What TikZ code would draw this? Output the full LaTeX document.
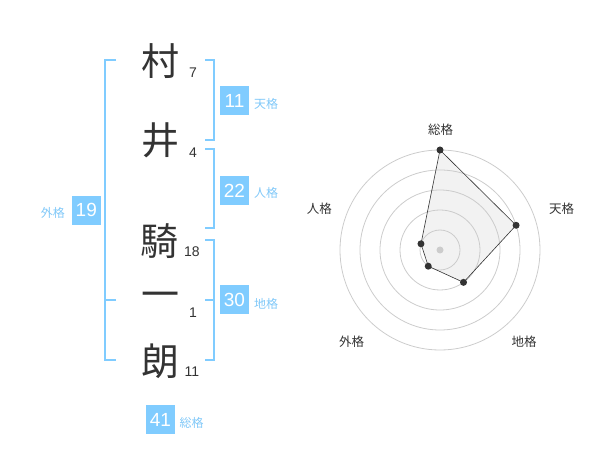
\documentclass[tikz,border=0pt]{standalone}
\usepackage{fontspec}
\setmainfont{Liberation Sans}
\newfontfamily\jpfont{Noto Sans CJK JP}
\definecolor{kaku}{HTML}{80CCFF}
\definecolor{kakutext}{HTML}{80C8F8}
\definecolor{ink}{HTML}{333333}
\definecolor{ring}{HTML}{CCCCCC}
\definecolor{area}{HTML}{F2F2F2}
\begin{document}
\begin{tikzpicture}[x=1pt,y=-1pt,
  kanji/.style={font=\jpfont\fontsize{38}{38}\selectfont,text=ink,inner sep=0},
  stroke/.style={font=\fontsize{14}{14}\selectfont,text=ink,inner sep=0},
  kakubox/.style={fill=kaku,text=white,minimum size=29pt,inner sep=0,font=\fontsize{19}{19}\selectfont},
  kakuname/.style={font=\jpfont\fontsize{12}{12}\selectfont,text=kakutext,inner sep=0},
  bracket/.style={draw=kaku,line width=2pt},
  axisname/.style={font=\jpfont\fontsize{12.5}{12.5}\selectfont,text=ink,inner sep=0},
  dot/.style={circle,fill=ink,inner sep=0,minimum size=7pt}]
\useasboundingbox (0,0) rectangle (600,470);

% name
\node[kanji] (k1) at (160,61) {村};
\node[kanji] (k2) at (160,140) {井};
\node[kanji] (k3) at (159,241) {騎};
\node[kanji] (k4) at (160,300) {一};
\node[kanji] (k5) at (160,361) {朗};
\node[stroke] (s1) at (193,73) {7};
\node[stroke] (s2) at (193,153) {4};
\node[stroke] (s3) at (192,252) {18};
\node[stroke] (s4) at (193,313) {1};
\node[stroke] (s5) at (192,372) {11};

% brackets
\coordinate (lt) at (116,60); \coordinate (lb) at (116,360); \coordinate (lm) at (116,300);
\path[bracket] (lt) -- ++(-11,0) |- (lb);
\path[bracket] (lm) -- ++(-11,0);
\coordinate (ta) at (205,60); \coordinate (tb) at (205,140);
\path[bracket] (ta) -- ++(9,0) |- (tb);
\coordinate (ja) at (205,149); \coordinate (jb) at (205,228);
\path[bracket] (ja) -- ++(9,0) |- (jb);
\coordinate (ca) at (205,240); \coordinate (cb) at (205,360); \coordinate (cm) at (205,300);
\path[bracket] (ca) -- ++(9,0) |- (cb);
\path[bracket] (cm) -- ++(9,0);

% kaku boxes
\node[kakubox] (ten) at (234.5,100.5) {11};
\node[kakuname,anchor=west] (tenl) at (254,104) {天格};
\node[kakubox] (jin) at (234.5,190.5) {22};
\node[kakuname,anchor=west] (jinl) at (254,193) {人格};
\node[kakubox] (gai) at (86.3,210.3) {19};
\node[kakuname,anchor=east] (gail) at (65,213) {外格};
\node[kakubox] (chi) at (234.5,300) {30};
\node[kakuname,anchor=west] (chil) at (254,304) {地格};
\node[kakubox] (sou) at (160.5,419.5) {41};
\node[kakuname,anchor=west] (soul) at (179.5,423) {総格};

% radar
\coordinate (c) at (440,250);
\coordinate (psou) at ([shift={(-90:100)}]c);
\coordinate (pten) at ([shift={(-18:80)}]c);
\coordinate (pchi) at ([shift={(54:40)}]c);
\coordinate (pgai) at ([shift={(126:20)}]c);
\coordinate (pjin) at ([shift={(-162:20)}]c);
\path[fill=area] (psou) -- (pten) -- (pchi) -- (pgai) -- (pjin) -- cycle;
\foreach \r in {20,40,60,80,100}
  \draw[ring,line width=0.8pt] (c) circle[radius=\r];
\path[draw=ink,line width=0.6pt] (psou) -- (pten) -- (pchi) -- (pgai) -- (pjin) -- cycle;
\node[circle,fill=ring,inner sep=0,minimum size=7pt] (mid) at (c) {};
\foreach \p in {psou,pten,pchi,pgai,pjin}
  \node[dot] at (\p) {};
\node[axisname] (asou) at (440.7,130) {総格};
\node[axisname] (aten) at (561.7,208.3) {天格};
\node[axisname] (achi) at (524,341.7) {地格};
\node[axisname] (agai) at (351.7,341.7) {外格};
\node[axisname] (ajin) at (319.3,208.3) {人格};
\end{tikzpicture}
\end{document}
